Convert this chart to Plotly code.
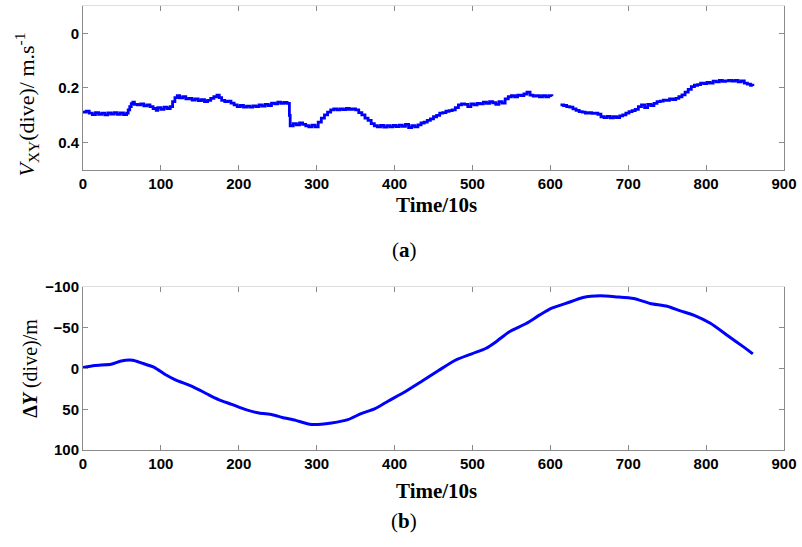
import plotly.graph_objects as go

# ---- data ----
t_vxy = [0, 4, 8, 12, 16, 20, 24, 28, 32, 36, 40, 44, 48, 52, 56, 58,
         60, 62, 64, 66, 70, 74, 78, 82, 86, 90, 94, 96, 100, 104, 108, 112,
         115, 118, 121, 124, 128, 132, 136, 140, 144, 148, 152, 156, 160, 164, 168, 172,
         175, 178, 182, 186, 190, 194, 198, 202, 206, 210, 214, 218, 222, 226, 230, 234,
         238, 242, 246, 250, 254, 258, 262, 265, 266, 270, 274, 278, 282, 286, 290, 294,
         298, 302, 306, 310, 314, 318, 322, 326, 330, 334, 338, 342, 346, 350, 354, 358,
         362, 366, 370, 374, 378, 382, 386, 390, 394, 398, 402, 406, 410, 414, 418, 422,
         426, 430, 434, 438, 442, 446, 450, 454, 458, 462, 466, 470, 474, 478, 482, 486,
         490, 494, 498, 502, 506, 510, 514, 518, 522, 526, 530, 534, 538, 542, 546, 550,
         554, 558, 562, 566, 570, 574, 578, 582, 586, 590, 594, 598, 602, 606,
         613, 617, 621, 625, 629, 633, 637, 641, 645, 649, 653, 657, 661, 665, 669, 673,
         677, 681, 685, 689, 693, 697, 701, 705, 709, 713, 717, 721, 725, 729, 733, 737,
         741, 745, 749, 753, 757, 761, 765, 769, 773, 777, 781, 785, 789, 793, 797, 801,
         805, 809, 813, 817, 821, 825, 829, 833, 837, 841, 845, 849, 853, 857, 860]
v_vxy = [0.288, 0.285, 0.292, 0.297, 0.290, 0.296, 0.292, 0.298, 0.291, 0.295, 0.290, 0.296, 0.291, 0.297, 0.292, 0.280,
         0.268, 0.257, 0.252, 0.260, 0.262, 0.258, 0.265, 0.262, 0.268, 0.275, 0.282, 0.272, 0.278, 0.270, 0.275, 0.268,
         0.250, 0.235, 0.228, 0.236, 0.232, 0.240, 0.238, 0.244, 0.240, 0.246, 0.243, 0.250, 0.245, 0.238, 0.232, 0.226,
         0.235, 0.245, 0.250, 0.248, 0.255, 0.262, 0.268, 0.264, 0.270, 0.266, 0.270, 0.265, 0.268, 0.262, 0.266, 0.260,
         0.264, 0.255, 0.258, 0.252, 0.256, 0.253, 0.256, 0.300, 0.338, 0.330, 0.335, 0.328, 0.333, 0.338, 0.342, 0.336,
         0.342, 0.325, 0.310, 0.298, 0.288, 0.280, 0.276, 0.280, 0.276, 0.279, 0.275, 0.278, 0.276, 0.280, 0.290, 0.298,
         0.310, 0.318, 0.330, 0.338, 0.342, 0.337, 0.343, 0.338, 0.342, 0.337, 0.341, 0.336, 0.340, 0.333, 0.345, 0.338,
         0.342, 0.335, 0.328, 0.325, 0.318, 0.313, 0.305, 0.300, 0.292, 0.290, 0.285, 0.283, 0.280, 0.272, 0.262, 0.258,
         0.260, 0.268, 0.258, 0.262, 0.256, 0.258, 0.252, 0.256, 0.250, 0.254, 0.260, 0.250, 0.255, 0.240, 0.232, 0.228,
         0.232, 0.226, 0.228, 0.222, 0.215, 0.226, 0.230, 0.228, 0.232, 0.228, 0.232, 0.228, 0.230, None,
         0.262, 0.264, 0.268, 0.270, 0.276, 0.282, 0.286, 0.288, 0.292, 0.290, 0.293, 0.292, 0.296, 0.305, 0.308, 0.304,
         0.309, 0.305, 0.308, 0.302, 0.298, 0.292, 0.286, 0.283, 0.278, 0.268, 0.262, 0.272, 0.260, 0.264, 0.256, 0.250,
         0.248, 0.244, 0.245, 0.240, 0.242, 0.238, 0.232, 0.225, 0.215, 0.205, 0.195, 0.190, 0.188, 0.182, 0.184, 0.180,
         0.182, 0.175, 0.178, 0.172, 0.176, 0.174, 0.172, 0.175, 0.172, 0.178, 0.174, 0.182, 0.186, 0.190, 0.193]

t_dy = [0, 15, 36, 49, 64, 75, 92, 105, 118, 140, 161, 174, 191, 209, 226, 243, 256, 273, 291,
        306, 319, 340, 357, 375, 392, 413, 435, 457, 478, 500, 517, 530, 547, 569, 586, 601,
        620, 642, 664, 685, 707, 728, 750, 767, 784, 806, 827, 848, 860]
v_dy = [-1.2, -3.7, -5.3, -9.4, -10.2, -6.9, -1.2, 7.0, 13.5, 21.8, 32.0, 38.0, 44.0, 50.5, 54.6, 56.6, 60.0, 63.6, 68.5,
        68.5, 66.9, 62.7, 55.4, 49.2, 39.8, 28.8, 15.6, 2.1, -10.2, -18.4, -24.6, -32.7, -45.0, -55.3, -65.6, -74.0,
        -80.0, -87.3, -89.3, -88.0, -86.0, -80.0, -76.6, -70.8, -65.6, -55.3, -41.0, -26.6, -18.0]

x_ticks = [0, 100, 200, 300, 400, 500, 600, 700, 800, 900]
y1_ticks = [0, 0.2, 0.4]
y2_ticks = [-100, -50, 0, 50, 100]
y2_ticktext = ["\u2212100", "\u221250", "0", "50", "100"]

BLUE = "#0000ff"
AXC = "#8a8a8a"
TICKFONT = dict(family="Liberation Sans", size=15, color="black", weight="bold")
SERIF = "Liberation Serif"

fig = go.Figure()
fig.add_trace(go.Scatter(x=t_vxy, y=v_vxy, mode="lines", line=dict(color=BLUE, width=2.8, shape="hv"),
                         connectgaps=False, xaxis="x", yaxis="y", showlegend=False))
fig.add_trace(go.Scatter(x=t_dy, y=v_dy, mode="lines", line=dict(color=BLUE, width=3, shape="spline", smoothing=0.6),
                         xaxis="x2", yaxis="y2", showlegend=False))
# invisible helpers for the light top frame axes
fig.add_trace(go.Scatter(x=[None], y=[None], xaxis="x3", yaxis="y", showlegend=False))
fig.add_trace(go.Scatter(x=[None], y=[None], xaxis="x4", yaxis="y2", showlegend=False))

common_x = dict(range=[0, 900], tickvals=x_ticks, ticks="inside", ticklen=5, tickcolor=AXC,
                showline=True, linecolor=AXC, linewidth=1, showgrid=False, zeroline=False,
                tickfont=TICKFONT, automargin=False)
top_x = dict(range=[0, 900], tickvals=x_ticks, ticks="inside", ticklen=5, tickcolor=AXC,
             showline=True, linecolor="#dedede", linewidth=1, showgrid=False, zeroline=False,
             showticklabels=False, side="top", automargin=False)

fig.update_layout(
    width=802, height=547,
    margin=dict(l=83, r=18, t=5, b=97, autoexpand=False),
    paper_bgcolor="white", plot_bgcolor="white",
    xaxis=dict(**common_x, anchor="y"),
    yaxis=dict(domain=[0.629, 0.998], range=[0.5, -0.1], autorange=False, tickvals=y1_ticks,
               ticktext=["0", "0.2", "0.4"], ticks="inside", ticklen=5, tickcolor=AXC,
               showline=True, linecolor=AXC, linewidth=1, mirror="ticks", showgrid=False,
               zeroline=False, tickfont=TICKFONT, anchor="x", automargin=False),
    xaxis2=dict(**common_x, anchor="y2"),
    yaxis2=dict(domain=[0.0, 0.366], range=[100, -100], autorange=False, tickvals=y2_ticks,
                ticktext=y2_ticktext, ticks="inside", ticklen=5, tickcolor=AXC,
                showline=True, linecolor=AXC, linewidth=1, mirror="ticks", showgrid=False,
                zeroline=False, tickfont=TICKFONT, anchor="x2", automargin=False),
    xaxis3=dict(**top_x, overlaying="x", anchor="y"),
    xaxis4=dict(**top_x, overlaying="x2", anchor="y2"),
)

ann = []
ann.append(dict(text="<i>V</i><sub>XY</sub>(dive)/ m.s<sup>-1</sup>", textangle=-90,
                x=-0.081, y=0.777, xref="paper", yref="paper", showarrow=False,
                xanchor="center", yanchor="middle", font=dict(family=SERIF, size=22, color="black")))
ann.append(dict(text="<b>\u0394<i>Y</i></b> (dive)/m", textangle=-90,
                x=-0.076, y=0.184, xref="paper", yref="paper", showarrow=False,
                xanchor="center", yanchor="middle", font=dict(family=SERIF, size=20, color="black")))
for yy in [0.5506, -0.092]:
    ann.append(dict(text="<b>Time/10s</b>", x=0.5036, y=yy, xref="paper", yref="paper",
                    showarrow=False, xanchor="center", yanchor="middle",
                    font=dict(family=SERIF, size=21, color="black")))
ann.append(dict(text="(<b>a</b>)", x=0.458, y=0.449, xref="paper", yref="paper", showarrow=False,
                xanchor="center", yanchor="middle", font=dict(family=SERIF, size=21, color="black")))
ann.append(dict(text="(<b>b</b>)", x=0.458, y=-0.16, xref="paper", yref="paper", showarrow=False,
                xanchor="center", yanchor="middle", font=dict(family=SERIF, size=21, color="black")))
fig.update_layout(annotations=ann)

fig.write_html("out.html")
